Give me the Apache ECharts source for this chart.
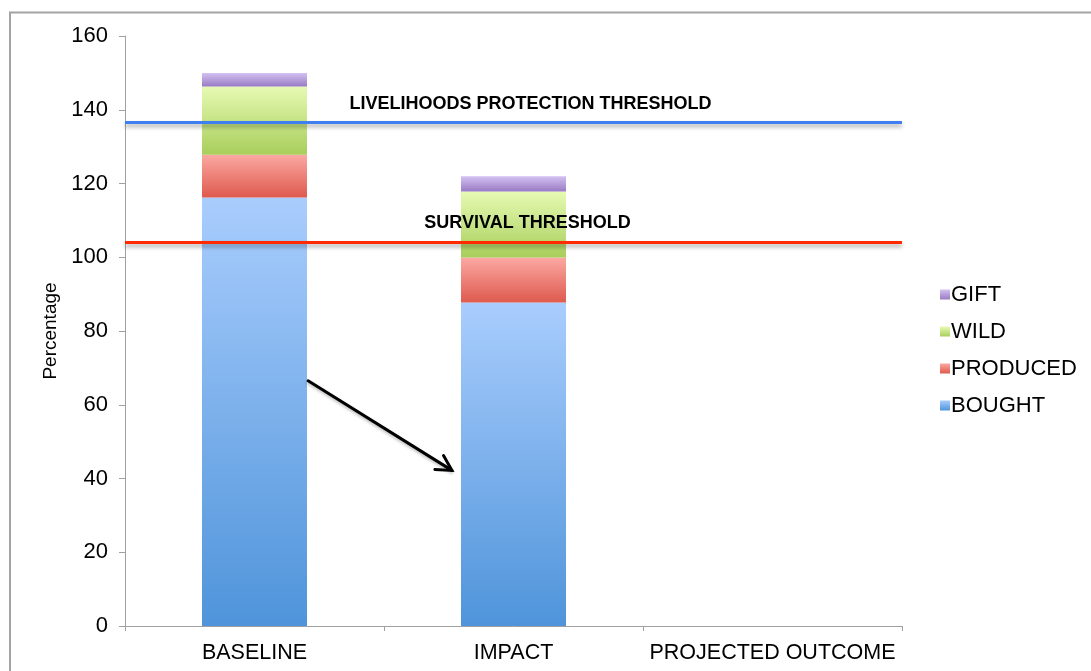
<!DOCTYPE html>
<html>
<head>
<meta charset="utf-8">
<script src="https://cdn.jsdelivr.net/npm/echarts@6/dist/echarts.min.js"></script>
<style>
  html, body { margin: 0; padding: 0; background: #ffffff; }
  #chart { width: 1091px; height: 671px; }
</style>
</head>
<body>
<div id="chart"></div>
<script>
// Categories along the x axis
const categories = ['BASELINE', 'IMPACT', 'PROJECTED OUTCOME'];

// Food sources as a percentage of needs (stacked, bottom to top)
const bought   = [116.2, 87.7, null];
const produced = [11.6, 12.2, null];
const wild     = [18.5, 17.9, null];
const gift     = [3.7, 4.2, null];

// Threshold levels
const livelihoodsThreshold = 136.5;
const survivalThreshold = 104.2;

// Axis ticks
const yMin = 0, yMax = 160, yStep = 20;

// Annotation arrow: [category position, value]
const arrowFrom = [0.207, 66.5];
const arrowTo   = [0.762, 42.2];

const FONT = '"Liberation Sans", Arial, Helvetica, sans-serif';

function grad(top, bottom) {
  return new echarts.graphic.LinearGradient(0, 0, 0, 1, [
    { offset: 0, color: top },
    { offset: 1, color: bottom }
  ]);
}

const palette = {
  BOUGHT:   grad('#a9cdfd', '#4f94da'),
  PRODUCED: grad('#fba8a2', '#de5a4e'),
  WILD:     grad('#e6fab3', '#a8ce5b'),
  GIFT:     grad('#d4c2f2', '#987ac3')
};

function barSeries(name, data) {
  return {
    name: name,
    type: 'bar',
    stack: 'total',
    barWidth: 105,
    data: data,
    itemStyle: {
      color: palette[name],
      shadowColor: 'rgba(0,0,0,0.18)',
      shadowBlur: 4,
      shadowOffsetX: 2,
      shadowOffsetY: 0
    },
    emphasis: { disabled: true }
  };
}

const chart = echarts.init(document.getElementById('chart'), null, { renderer: 'canvas' });

const thresholdLabel = {
  show: true,
  position: 'insideMiddleTop',
  fontFamily: FONT,
  fontWeight: 'bold',
  fontSize: 18,
  color: '#000',
  distance: 10
};

const option = {
  animation: false,
  backgroundColor: '#ffffff',
  grid: { left: 125, right: 189, top: 36, bottom: 45, containLabel: false },
  legend: {
    orient: 'vertical',
    left: 935,
    top: 277,
    data: ['GIFT', 'WILD', 'PRODUCED', 'BOUGHT'],
    itemWidth: 10,
    itemHeight: 10,
    itemGap: 12,
    icon: 'rect',
    selectedMode: false,
    textStyle: { fontFamily: FONT, fontSize: 22, color: '#000', lineHeight: 25, padding: [0, 0, 0, -4] }
  },
  xAxis: {
    type: 'category',
    data: categories,
    axisLine: { lineStyle: { color: '#a0a0a0', width: 1 } },
    axisTick: { show: true, length: 5, lineStyle: { color: '#a0a0a0' } },
    axisLabel: { interval: 0, fontFamily: FONT, fontSize: 21.5, color: '#000', margin: 16 },
    splitLine: { show: false }
  },
  yAxis: {
    type: 'value',
    min: yMin,
    max: yMax,
    interval: yStep,
    name: 'Percentage',
    nameLocation: 'middle',
    nameRotate: 90,
    nameGap: 62,
    nameTextStyle: { fontFamily: FONT, fontSize: 19, color: '#000' },
    axisLine: { show: true, lineStyle: { color: '#a0a0a0', width: 1 } },
    axisTick: { show: true, length: 6, lineStyle: { color: '#a0a0a0' } },
    axisLabel: { fontFamily: FONT, fontSize: 22, color: '#000', margin: 17 },
    splitLine: { show: false }
  },
  series: [
    barSeries('BOUGHT', bought),
    barSeries('PRODUCED', produced),
    barSeries('WILD', wild),
    Object.assign(barSeries('GIFT', gift), {
      markLine: {
        silent: true,
        symbol: ['none', 'none'],
        z: 10,
        data: [
          {
            yAxis: livelihoodsThreshold,
            lineStyle: { color: '#3f7ff0', width: 3, type: 'solid',
              shadowColor: 'rgba(0,0,0,0.35)', shadowBlur: 4, shadowOffsetY: 3 },
            label: Object.assign({ formatter: 'LIVELIHOODS PROTECTION THRESHOLD', offset: [17, 0] }, thresholdLabel)
          },
          {
            yAxis: survivalThreshold,
            lineStyle: { color: '#ff2a00', width: 3, type: 'solid',
              shadowColor: 'rgba(0,0,0,0.35)', shadowBlur: 4, shadowOffsetY: 3 },
            label: Object.assign({ formatter: 'SURVIVAL THRESHOLD', offset: [14, 0] }, thresholdLabel)
          }
        ]
      }
    })
  ]
};

chart.setOption(option);

// Outer frame and annotation arrow
function toPixel(pt) {
  const x0 = chart.convertToPixel({ xAxisIndex: 0 }, 0);
  const x1 = chart.convertToPixel({ xAxisIndex: 0 }, 1);
  const x = x0 + (x1 - x0) * pt[0];
  const y = chart.convertToPixel({ yAxisIndex: 0 }, pt[1]);
  return [x, y];
}

const a = toPixel(arrowFrom);
const b = toPixel(arrowTo);
const ang = Math.atan2(b[1] - a[1], b[0] - a[0]);
const headLen = 17, headSpread = 0.5;
const h1 = [b[0] - headLen * Math.cos(ang - headSpread), b[1] - headLen * Math.sin(ang - headSpread)];
const h2 = [b[0] - headLen * Math.cos(ang + headSpread), b[1] - headLen * Math.sin(ang + headSpread)];

chart.setOption({
  graphic: [
    {
      type: 'rect',
      silent: true,
      shape: { x: 10, y: 12.5, width: 1200, height: 800 },
      style: { fill: 'none', stroke: '#a3a3a3', lineWidth: 2 },
      z: 0
    },
    {
      type: 'line',
      silent: true,
      shape: { x1: a[0], y1: a[1], x2: b[0], y2: b[1] },
      style: { stroke: '#000', lineWidth: 3, lineCap: 'round',
        shadowColor: 'rgba(0,0,0,0.25)', shadowBlur: 3, shadowOffsetY: 2 },
      z: 100
    },
    {
      type: 'polyline',
      silent: true,
      shape: { points: [h1, b, h2] },
      style: { stroke: '#000', lineWidth: 3, fill: 'none', lineJoin: 'miter', lineCap: 'round' },
      z: 100
    }
  ]
});
</script>
</body>
</html>
